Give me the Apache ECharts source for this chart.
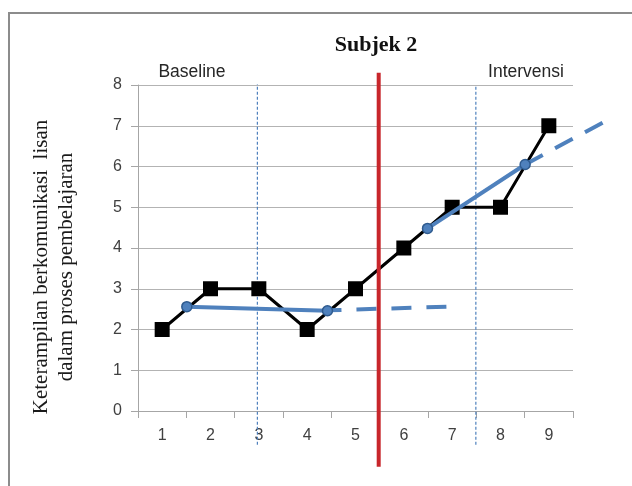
<!DOCTYPE html>
<html>
<head>
<meta charset="utf-8">
<script src="https://cdn.jsdelivr.net/npm/echarts@6/dist/echarts.min.js"></script>
<style>
  html, body { margin: 0; padding: 0; background: #fff; }
  #frame { position: absolute; left: 8px; top: 12px; width: 640px; height: 490px; border: 2px solid #8c8c8c; box-sizing: border-box; }
  #chart { position: absolute; left: 0; top: 0; width: 632px; height: 486px; }
</style>
</head>
<body>
<div id="frame"></div>
<div id="chart"></div>
<script>
// ---- data ----
const categories = ['1', '2', '3', '4', '5', '6', '7', '8', '9'];
const scores = [2, 3, 3, 2, 3, 4, 5, 5, 7];
const yTicks = [0, 1, 2, 3, 4, 5, 6, 7, 8];

// trend lines (x in session units, y in score units)
const baselineTrendSolid = [[1.51, 2.56], [4.42, 2.46]];
const baselineTrendDashed = [[4.42, 2.47], [6.9, 2.56]];
const interventionTrendSolid = [[6.49, 4.48], [8.51, 6.05]];
const interventionTrendDashed = [[8.51, 6.05], [10.15, 7.1]];

// phase separators
const phaseLine = [[5.48, -1.37], [5.48, 8.3]];
const dividerA = [[2.97, -0.83], [2.97, 8.02]];
const dividerB = [[7.49, -0.83], [7.49, 7.96]];

const titleText = 'Subjek 2';
const phaseLabels = ['Baseline', 'Intervensi'];
const yNameLines = ['Keterampilan berkomunikasi  lisan', 'dalam proses pembelajaran'];

const W = 632, H = 486;
const gLeft = 138, gRight = 59, gTop = 85, gBottom = 75;
const plotW = W - gLeft - gRight;
// overlay axis with the same scale as the category axis, but reaching the right edge
const xMin = 0.5, xMaxMain = categories.length + 0.5;
const unitPx = plotW / (xMaxMain - xMin);
const xMaxWide = xMin + (W - gLeft) / unitPx;

const chart = echarts.init(document.getElementById('chart'), null, { renderer: 'canvas' });
const blue = '#4F81BD';
const grey = '#a6a6a6';
const serif = '"Liberation Serif", "DejaVu Serif", serif';
const sans = '"Liberation Sans", Arial, sans-serif';

chart.setOption({
  animation: false,
  backgroundColor: 'transparent',
  grid: [
    { left: gLeft, right: gRight, top: gTop, bottom: gBottom, containLabel: false },
    { left: gLeft, right: 0, top: gTop, bottom: gBottom, containLabel: false }
  ],
  graphic: [
    { type: 'text', x: 376, y: 45, style: { text: titleText, font: 'bold 22px ' + serif, fill: '#111', textAlign: 'center', textVerticalAlign: 'middle' } },
    { type: 'text', x: 192, y: 72, style: { text: phaseLabels[0], font: '17.5px ' + sans, fill: '#262626', textAlign: 'center', textVerticalAlign: 'middle' } },
    { type: 'text', x: 526, y: 72, style: { text: phaseLabels[1], font: '17.5px ' + sans, fill: '#262626', textAlign: 'center', textVerticalAlign: 'middle' } },
    { type: 'text', x: 41, y: 267, rotation: Math.PI / 2, style: { text: yNameLines[0], font: '21px ' + serif, fill: '#1a1a1a', textAlign: 'center', textVerticalAlign: 'middle' } },
    { type: 'text', x: 66, y: 267, rotation: Math.PI / 2, style: { text: yNameLines[1], font: '21px ' + serif, fill: '#1a1a1a', textAlign: 'center', textVerticalAlign: 'middle' } }
  ],
  xAxis: [
    {
      gridIndex: 0, type: 'category', data: categories, boundaryGap: true,
      axisLine: { lineStyle: { color: grey, width: 1 } },
      axisTick: { show: true, length: 7, lineStyle: { color: grey } },
      axisLabel: { color: '#404040', fontSize: 16, fontFamily: sans, margin: 17 },
      splitLine: { show: false }
    },
    { gridIndex: 1, type: 'value', min: xMin, max: xMaxWide, show: false }
  ],
  yAxis: [
    {
      gridIndex: 0, type: 'value', min: yTicks[0], max: yTicks[yTicks.length - 1], interval: 1,
      axisLine: { show: true, lineStyle: { color: grey, width: 1 } },
      axisTick: { show: true, length: 7, lineStyle: { color: grey } },
      axisLabel: { color: '#404040', fontSize: 16, fontFamily: sans, margin: 16 },
      splitLine: { lineStyle: { color: '#b3b3b3', width: 1 } }
    },
    { gridIndex: 1, type: 'value', min: yTicks[0], max: yTicks[yTicks.length - 1], show: false }
  ],
  series: [
    { type: 'line', xAxisIndex: 1, yAxisIndex: 1, data: dividerA, clip: false, symbol: 'none', z: 1,
      lineStyle: { color: blue, width: 1.2, type: [3, 2] } },
    { type: 'line', xAxisIndex: 1, yAxisIndex: 1, data: dividerB, clip: false, symbol: 'none', z: 1,
      lineStyle: { color: blue, width: 1.2, type: [3, 2] } },
    { type: 'line', xAxisIndex: 0, yAxisIndex: 0, data: scores, symbol: 'rect', symbolSize: 15, z: 3,
      lineStyle: { color: '#000', width: 3 }, itemStyle: { color: '#000' } },
    { type: 'line', xAxisIndex: 1, yAxisIndex: 1, data: baselineTrendSolid, symbol: 'circle', symbolSize: 10, z: 4,
      lineStyle: { color: blue, width: 4 }, itemStyle: { color: blue, borderColor: '#2f5b8f', borderWidth: 1.5 } },
    { type: 'line', xAxisIndex: 1, yAxisIndex: 1, data: baselineTrendDashed, symbol: 'none', z: 4,
      lineStyle: { color: blue, width: 4, type: [20, 15], dashOffset: 6 } },
    { type: 'line', xAxisIndex: 1, yAxisIndex: 1, data: interventionTrendSolid, symbol: 'circle', symbolSize: 10, z: 4,
      lineStyle: { color: blue, width: 4 }, itemStyle: { color: blue, borderColor: '#2f5b8f', borderWidth: 1.5 } },
    { type: 'line', xAxisIndex: 1, yAxisIndex: 1, data: interventionTrendDashed, symbol: 'none', clip: false, z: 4,
      lineStyle: { color: blue, width: 4, type: [20, 14] } },
    { type: 'line', xAxisIndex: 1, yAxisIndex: 1, data: phaseLine, clip: false, symbol: 'none', z: 5,
      lineStyle: { color: '#C8262B', width: 4 } }
  ]
});
</script>
</body>
</html>
